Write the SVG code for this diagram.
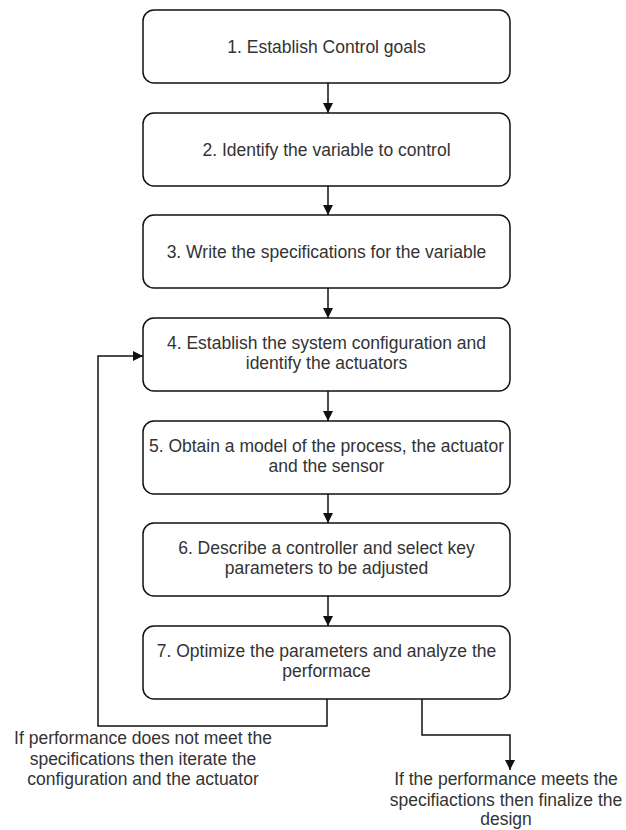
<svg xmlns="http://www.w3.org/2000/svg" width="626" height="830" viewBox="0 0 626 830">
<style>
.box{fill:#fff;stroke:#111;stroke-width:1.5}
.t{font-family:"Liberation Sans",Arial,sans-serif;font-size:17.5px;fill:#333;text-anchor:middle}
.c{fill:none;stroke:#111;stroke-width:1.5}
</style>
<defs>
<marker id="ah" viewBox="0 0 10 10" refX="10" refY="5" markerWidth="10" markerHeight="10" markerUnits="userSpaceOnUse" orient="auto">
<path d="M0,0 L10,5 L0,10 Z" fill="#111"/>
</marker>
</defs>
<rect width="626" height="830" fill="#fff"/>
<g id="n1"><rect class="box" x="143" y="10" width="367" height="73" rx="11"/><text class="t" x="326.5" y="53">1. Establish Control goals</text></g>
<g id="n2"><rect class="box" x="143" y="113" width="367" height="73" rx="11"/><text class="t" x="326.5" y="156">2. Identify the variable to control</text></g>
<g id="n3"><rect class="box" x="143" y="215" width="367" height="73" rx="11"/><text class="t" x="326.5" y="258">3. Write the specifications for the variable</text></g>
<g id="n4"><rect class="box" x="143" y="318" width="367" height="73" rx="11"/><text class="t" x="326.5" y="349">4. Establish the system configuration and</text><text class="t" x="326.5" y="369">identify the actuators</text></g>
<g id="n5"><rect class="box" x="143" y="421" width="367" height="73" rx="11"/><text class="t" x="326.5" y="452">5. Obtain a model of the process, the actuator</text><text class="t" x="326.5" y="472">and the sensor</text></g>
<g id="n6"><rect class="box" x="143" y="523" width="367" height="73" rx="11"/><text class="t" x="326.5" y="554">6. Describe a controller and select key</text><text class="t" x="326.5" y="574">parameters to be adjusted</text></g>
<g id="n7"><rect class="box" x="143" y="626" width="367" height="73" rx="11"/><text class="t" x="326.5" y="657">7. Optimize the parameters and analyze the</text><text class="t" x="326.5" y="677">performace</text></g>
<g id="lbl-left"><text class="t" x="143" y="744">If performance does not meet the</text><text class="t" x="143" y="765">specifications then iterate the</text><text class="t" x="143" y="785">configuration and the actuator</text></g>
<g id="lbl-right"><text class="t" x="506" y="785">If the performance meets the</text><text class="t" x="506" y="806">specifiactions then finalize the</text><text class="t" x="506" y="825">design</text></g>
<g id="connectors">
<path class="c" d="M328,83 V113" marker-end="url(#ah)"/>
<path class="c" d="M328,186 V215" marker-end="url(#ah)"/>
<path class="c" d="M328,288 V318" marker-end="url(#ah)"/>
<path class="c" d="M328,391 V421" marker-end="url(#ah)"/>
<path class="c" d="M328,494 V523" marker-end="url(#ah)"/>
<path class="c" d="M328,596 V626" marker-end="url(#ah)"/>
<path class="c" d="M327,699 V726 H98 V356 H143" marker-end="url(#ah)"/>
<path class="c" d="M422,699 V735 H510 V770" marker-end="url(#ah)"/>
</g>
</svg>
